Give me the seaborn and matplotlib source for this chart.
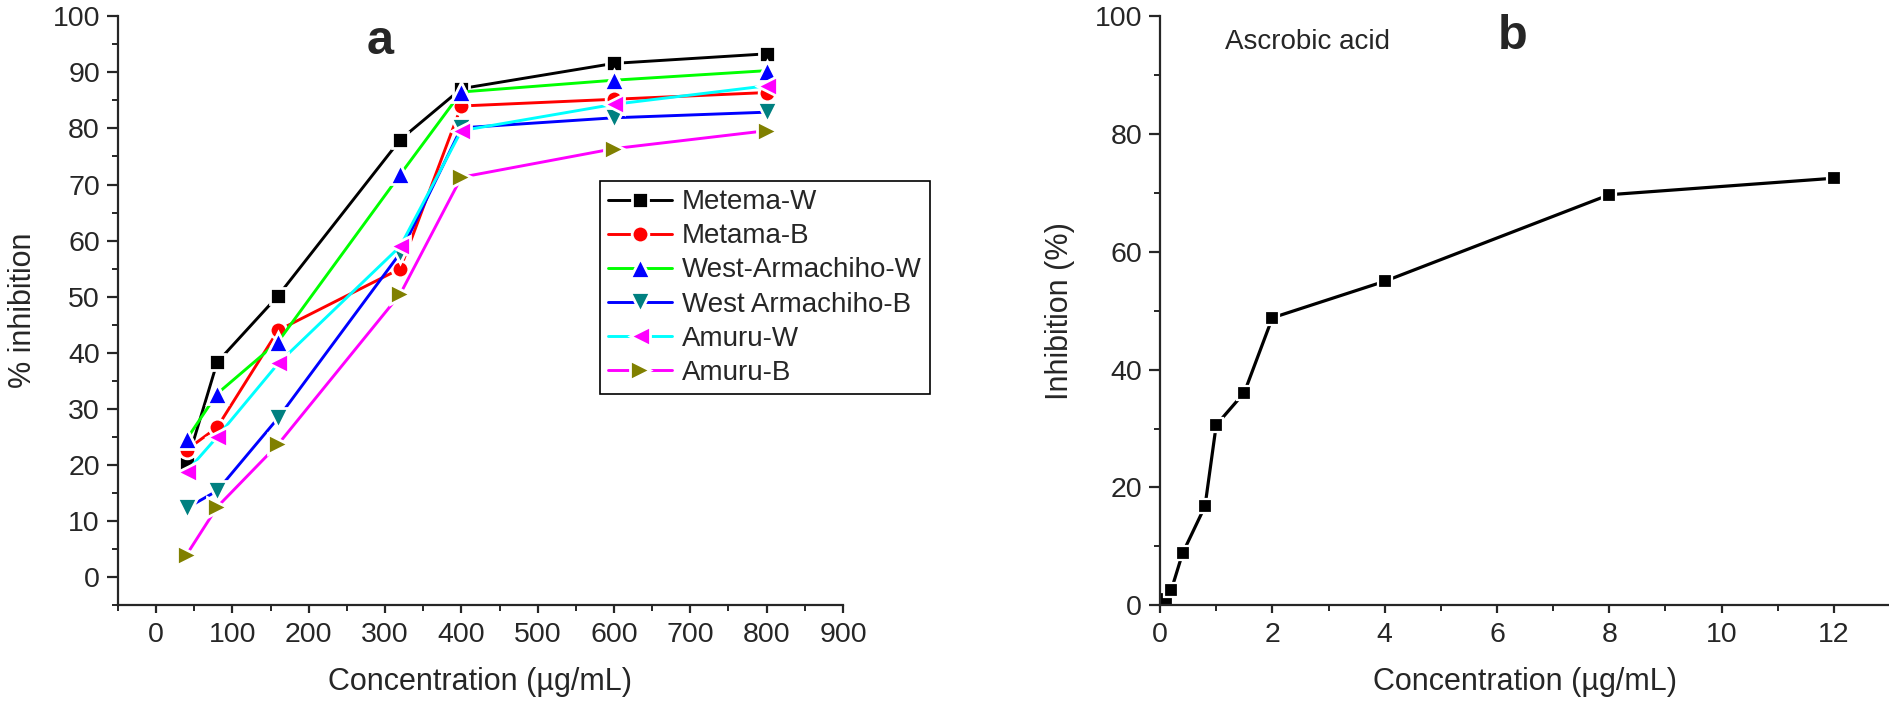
import matplotlib
matplotlib.use("Agg")
import matplotlib.pyplot as plt
from matplotlib.ticker import MultipleLocator
import seaborn as sns

# Panel a: extracts
conc_a = [40, 80, 160, 320, 400, 600, 800]
metema_w = [20.2, 38.3, 50.2, 78.0, 87.1, 91.6, 93.3]
metama_b = [22.7, 26.7, 44.0, 55.0, 84.0, 85.2, 86.4]
west_arm_w = [24.6, 32.7, 42.0, 71.8, 86.5, 88.6, 90.3]
west_arm_b = [12.3, 15.4, 28.4, 57.8, 80.1, 81.9, 82.9]
amuru_w = [18.8, 25.0, 38.1, 59.0, 79.6, 84.3, 87.6]
amuru_b = [4.0, 12.5, 23.7, 50.5, 71.3, 76.4, 79.6]

series_names = ["Metema-W", "Metama-B", "West-Armachiho-W",
                "West Armachiho-B", "Amuru-W", "Amuru-B"]
series_values = [metema_w, metama_b, west_arm_w, west_arm_b, amuru_w, amuru_b]
line_colors = ["#000000", "#FF0000", "#00FF00", "#0000FF", "#00FFFF", "#FF00FF"]
marker_colors = ["#000000", "#FF0000", "#0000FF", "#008080", "#FF00FF", "#808000"]
markers = ["s", "o", "^", "v", "<", ">"]
marker_sizes = [11.5, 12, 15, 15, 15, 15]

# Panel b: ascorbic acid standard
conc_b = [0.1, 0.2, 0.4, 0.8, 1.0, 1.5, 2.0, 4.0, 8.0, 12.0]
ascorbic = [1.0, 2.6, 8.8, 16.8, 30.6, 36.1, 48.8, 55.0, 69.7, 72.5]

sns.set_style("ticks")
plt.rcParams["font.family"] = ["Liberation Sans", "DejaVu Sans"]
plt.rcParams["xtick.major.size"] = 6
plt.rcParams["ytick.major.size"] = 8
plt.rcParams["xtick.minor.size"] = 4
plt.rcParams["ytick.minor.size"] = 4.5
plt.rcParams["xtick.major.pad"] = 6
plt.rcParams["ytick.major.pad"] = 5
plt.rcParams["axes.linewidth"] = 1.6
plt.rcParams["xtick.major.width"] = 1.6
plt.rcParams["ytick.major.width"] = 1.6
plt.rcParams["xtick.minor.width"] = 1.4
plt.rcParams["ytick.minor.width"] = 1.4

fig = plt.figure(figsize=(18.9, 7.07), dpi=100)
ax1 = fig.add_axes([0.0624, 0.144, 0.3836, 0.833])
ax2 = fig.add_axes([0.6138, 0.144, 0.3862, 0.833])

# white marker edge gives the small gap between line and symbol
for name, vals, lc, mc, m, ms in zip(series_names, series_values, line_colors,
                                     marker_colors, markers, marker_sizes):
    sns.lineplot(x=conc_a, y=vals, ax=ax1, color=lc, linewidth=2.1,
                 marker=m, markersize=ms, markerfacecolor=mc,
                 markeredgecolor="white", markeredgewidth=2, label=name)

ax1.set_xlim(-50, 900)
ax1.set_ylim(-5, 100)
ax1.xaxis.set_major_locator(MultipleLocator(100))
ax1.xaxis.set_minor_locator(MultipleLocator(50))
ax1.yaxis.set_major_locator(MultipleLocator(10))
ax1.yaxis.set_minor_locator(MultipleLocator(5))
ax1.set_xticks([0, 100, 200, 300, 400, 500, 600, 700, 800, 900])
ax1.tick_params(labelsize=20.5)
ax1.set_xlabel("Concentration (µg/mL)", fontsize=22, labelpad=14)
ax1.set_ylabel("% inhibition", fontsize=22, labelpad=10)
ax1.text(293, 95.5, "a", fontsize=35, fontweight="bold", ha="center", va="center")
sns.despine(ax=ax1)

leg = ax1.legend(loc="upper left", bbox_to_anchor=(600 / 1890, 1 - 181 / 707),
                 bbox_transform=fig.transFigure, borderaxespad=0,
                 fontsize=20, handlelength=2.3, frameon=True, fancybox=False,
                 edgecolor="black", framealpha=1, labelspacing=0.29,
                 borderpad=0.3, handletextpad=0.35)
leg.get_frame().set_linewidth(1.2)

sns.lineplot(x=conc_b, y=ascorbic, ax=ax2, color="black", linewidth=2.3,
             marker="s", markersize=9.5, markerfacecolor="black",
             markeredgecolor="white", markeredgewidth=1.6)
ax2.set_xlim(0, 13)
ax2.set_ylim(0, 100)
ax2.xaxis.set_major_locator(MultipleLocator(2))
ax2.xaxis.set_minor_locator(MultipleLocator(1))
ax2.yaxis.set_major_locator(MultipleLocator(20))
ax2.yaxis.set_minor_locator(MultipleLocator(10))
ax2.tick_params(labelsize=20.5)
ax2.set_xlabel("Concentration (µg/mL)", fontsize=22, labelpad=14)
ax2.set_ylabel("Inhibition (%)", fontsize=22, labelpad=14)
ax2.text(1.15, 95.7, "Ascrobic acid", fontsize=20, va="center")
ax2.text(6.28, 96.5, "b", fontsize=35, fontweight="bold", ha="center", va="center")
sns.despine(ax=ax2)

fig.savefig("out.png", dpi=100)
